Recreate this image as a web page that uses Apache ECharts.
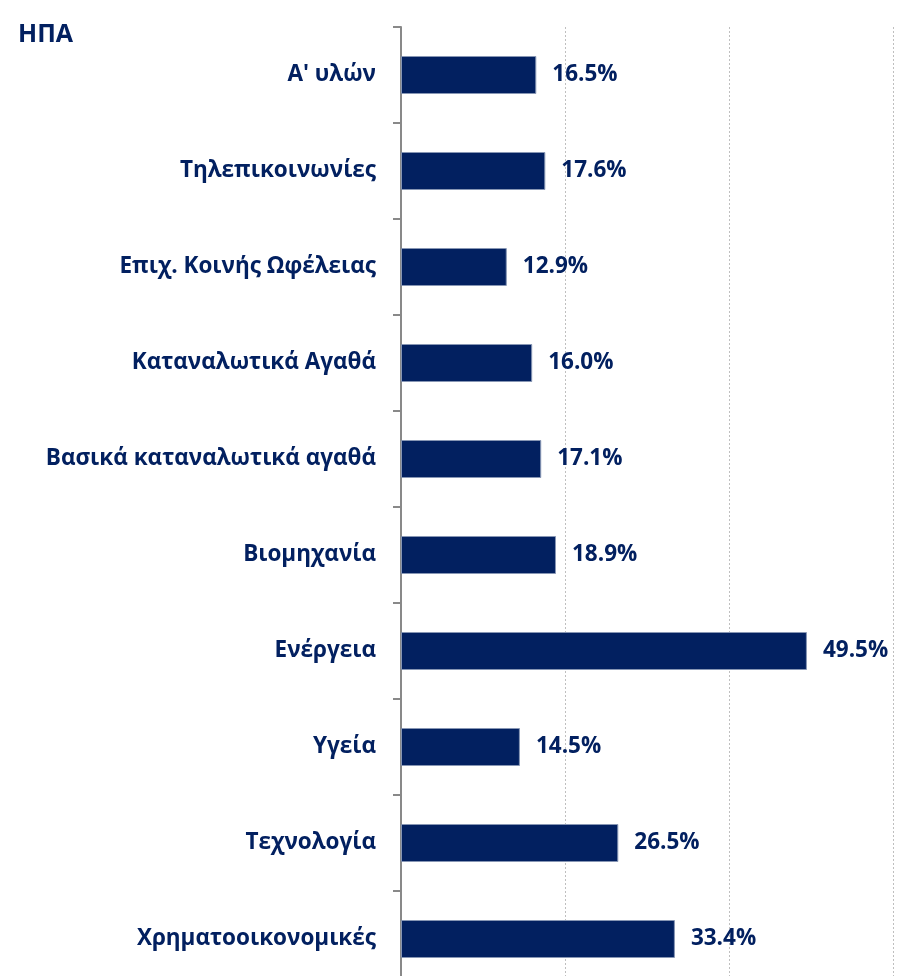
<!DOCTYPE html>
<html>
<head>
<meta charset="utf-8">
<script src="https://cdn.jsdelivr.net/npm/echarts@6/dist/echarts.min.js"></script>
<style>
html,body{margin:0;padding:0;background:#fff;overflow:hidden;}
#chart{width:901px;height:1000px;}
</style>
</head>
<body>
<div id="chart"></div>
<script>
const titleText = 'ΗΠΑ';
const categories = ["Α' υλών", 'Τηλεπικοινωνίες', 'Επιχ. Κοινής Ωφέλειας', 'Καταναλωτικά Αγαθά', 'Βασικά καταναλωτικά αγαθά', 'Βιομηχανία', 'Ενέργεια', 'Υγεία', 'Τεχνολογία', 'Χρηματοοικονομικές'];
const values = [16.5, 17.6, 12.9, 16.0, 17.1, 18.9, 49.5, 14.5, 26.5, 33.4];

const navy = '#022060';
const font = 'Open Sans';
const chart = echarts.init(document.getElementById('chart'));
chart.setOption({
  animation: false,
  title: {
    text: titleText, left: 18, top: 22, padding: 0,
    textStyle: { color: navy, fontFamily: font, fontWeight: 'bold', fontSize: 25 }
  },
  grid: { left: 401, right: 8, top: 27, height: 960, containLabel: false },
  xAxis: {
    type: 'value', min: 0, max: 60, interval: 20,
    axisLabel: { show: false }, axisLine: { show: false }, axisTick: { show: false },
    splitLine: { show: true, lineStyle: { color: '#bfbfbf', width: 1, type: [2, 2] } }
  },
  yAxis: {
    type: 'category', inverse: true, data: categories,
    axisLine: { show: true, lineStyle: { color: '#898989', width: 2 } },
    axisTick: { show: true, length: 8, inside: false, lineStyle: { color: '#898989', width: 2 } },
    axisLabel: { margin: 25, color: navy, fontFamily: font, fontWeight: 'bold', fontSize: 22.5 }
  },
  series: [{
    type: 'bar', data: values, barWidth: 38,
    itemStyle: { color: navy, borderColor: '#8796b4', borderWidth: 1 },
    label: {
      show: true, position: 'right', distance: 16,
      formatter: p => p.value.toFixed(1) + '%',
      color: navy, fontFamily: font, fontWeight: 'bold', fontSize: 22.5
    }
  }]
});
</script>
</body>
</html>
